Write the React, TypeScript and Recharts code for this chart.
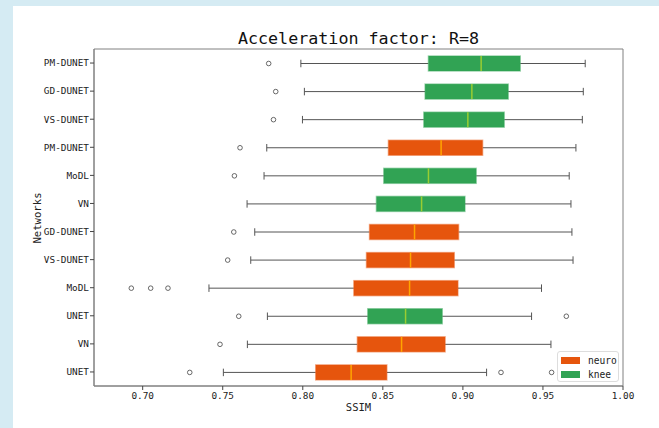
import React from "react"
import { ComposedChart, Bar, XAxis, YAxis, ReferenceArea } from "recharts"

const categories = ["PM-DUNET", "GD-DUNET", "VS-DUNET", "PM-DUNET", "MoDL", "VN", "GD-DUNET", "VS-DUNET", "MoDL", "UNET", "VN", "UNET"]
const groups = ["knee", "knee", "knee", "neuro", "knee", "knee", "neuro", "neuro", "neuro", "knee", "neuro", "neuro"]
const whiskerLow = [0.7988, 0.801, 0.7998, 0.7775, 0.7758, 0.7652, 0.77, 0.7675, 0.7414, 0.7779, 0.7654, 0.7504]
const q1 = [0.8785, 0.8764, 0.8756, 0.8535, 0.8506, 0.846, 0.8417, 0.8398, 0.8319, 0.8406, 0.8341, 0.8081]
const medians = [0.9114, 0.9056, 0.9031, 0.8864, 0.8785, 0.8742, 0.8698, 0.8673, 0.8667, 0.8642, 0.8617, 0.8302]
const q3 = [0.9358, 0.9283, 0.9258, 0.9123, 0.9083, 0.9013, 0.8973, 0.8946, 0.8969, 0.8871, 0.8889, 0.8525]
const whiskerHigh = [0.9764, 0.9752, 0.9746, 0.9706, 0.9664, 0.9675, 0.9681, 0.9688, 0.9491, 0.9429, 0.955, 0.9148]
const fliers = [
  [0.7787],
  [0.7831],
  [0.7817],
  [0.7608],
  [0.7573],
  [],
  [0.7569],
  [0.7531],
  [0.6929, 0.705, 0.7158],
  [0.76, 0.9646],
  [0.7483],
  [0.7294, 0.9238, 0.9554],
]
const xTicks = [0.7, 0.75, 0.8, 0.85, 0.9, 0.95, 1.0]

const colors: Record<string, string> = { neuro: "#e6550d", knee: "#31a354" }
const medianColors: Record<string, string> = { neuro: "#ffa500", knee: "#9acd32" }

const data = categories.map((name, i) => ({
  name,
  group: groups[i],
  lo: whiskerLow[i],
  q1: q1[i],
  med: medians[i],
  q3: q3[i],
  hi: whiskerHigh[i],
  fliers: fliers[i],
  box: [q1[i], q3[i]],
}))

const mono = "'DejaVu Sans Mono', monospace"

// box shape: the bar covers q1..q3, the rest is placed with the same scale
function BoxShape(props: any) {
  const { x, y, width, height, payload } = props
  const k = width / (payload.q3 - payload.q1)
  const px = (v: number) => x + (v - payload.q1) * k
  const cy = y + height / 2
  const c = colors[payload.group]
  const capH = height / 2
  return (
    <g>
      <line x1={px(payload.lo)} x2={x} y1={cy} y2={cy} stroke="#555" strokeWidth={1} />
      <line x1={x + width} x2={px(payload.hi)} y1={cy} y2={cy} stroke="#555" strokeWidth={1} />
      <line x1={px(payload.lo)} x2={px(payload.lo)} y1={cy - capH / 2} y2={cy + capH / 2} stroke="#555" strokeWidth={1} />
      <line x1={px(payload.hi)} x2={px(payload.hi)} y1={cy - capH / 2} y2={cy + capH / 2} stroke="#555" strokeWidth={1} />
      <rect x={x} y={y} width={width} height={height} fill={c} stroke={c} strokeOpacity={0.45} strokeWidth={1.5} />
      <line x1={px(payload.med)} x2={px(payload.med)} y1={y} y2={y + height} stroke={medianColors[payload.group]} strokeWidth={1.5} />
      {payload.fliers.map((f: number, j: number) => (
        <circle key={j} cx={px(f)} cy={cy} r={2.3} fill="none" stroke="#444" strokeWidth={0.8} />
      ))}
    </g>
  )
}

function LegendBox() {
  const items = ["neuro", "knee"]
  return (
    <div
      style={{
        position: "absolute",
        left: 557,
        top: 351,
        width: 62,
        height: 31,
        border: "1px solid #ddd",
        borderRadius: 3,
        background: "rgba(255,255,255,0.85)",
        boxSizing: "border-box",
        padding: "2px 0 0 3px",
        fontFamily: mono,
        fontSize: 9.6,
        color: "#222",
      }}
    >
      {items.map((it) => (
        <div key={it} style={{ display: "flex", alignItems: "center", height: 13.5 }}>
          <span style={{ display: "inline-block", width: 19, height: 7, background: colors[it], marginRight: 8 }} />
          <span>{it}</span>
        </div>
      ))}
    </div>
  )
}

export default function App() {
  return (
    <div style={{ position: "fixed", left: 0, top: 0, width: 659, height: 428, background: "#d5ebf3", overflow: "hidden" }}>
      <div style={{ position: "absolute", left: 13, top: 6, right: 0, bottom: 0, background: "#fff" }} />
      <div
        style={{
          position: "absolute",
          left: 94,
          width: 529,
          top: 28,
          textAlign: "center",
          fontFamily: mono,
          fontSize: 16.7,
          color: "#111",
          lineHeight: "20px",
        }}
      >
        Acceleration factor: R=8
      </div>
      <div
        style={{
          position: "absolute",
          left: 37,
          top: 218,
          transform: "translate(-50%, -50%) rotate(-90deg)",
          fontFamily: mono,
          fontSize: 10.6,
          color: "#222",
          whiteSpace: "nowrap",
        }}
      >
        Networks
      </div>
      <div style={{ position: "absolute", left: 0, top: 0 }}>
        <ComposedChart
          width={659}
          height={428}
          data={data}
          layout="vertical"
          margin={{ top: 49, right: 36, bottom: 12, left: 14 }}
        >
          <XAxis
            type="number"
            domain={[0.6696, 1.0]}
            allowDataOverflow
            ticks={xTicks}
            tickFormatter={(v: number) => v.toFixed(2)}
            height={30}
            tickSize={4}
            tickMargin={2}
            axisLine={{ stroke: "#808080" }}
            tickLine={{ stroke: "#444" }}
            tick={{ fontFamily: mono, fontSize: 9.4, fill: "#222" }}
            label={{ value: "SSIM", position: "bottom", offset: -12, fontFamily: mono, fontSize: 10.5, fill: "#222" }}
          />
          <YAxis
            type="category"
            dataKey="name"
            width={80}
            tickSize={4}
            tickMargin={1}
            axisLine={{ stroke: "#808080" }}
            tickLine={{ stroke: "#444" }}
            tick={{ fontFamily: mono, fontSize: 9.4, fill: "#222" }}
            interval={0}
          />
          <ReferenceArea x1={0.6696} x2={1.0} fill="none" stroke="#808080" strokeWidth={1} ifOverflow="visible" />
          <Bar dataKey="box" barSize={15} shape={<BoxShape />} isAnimationActive={false} />
        </ComposedChart>
      </div>
      <LegendBox />
    </div>
  )
}
